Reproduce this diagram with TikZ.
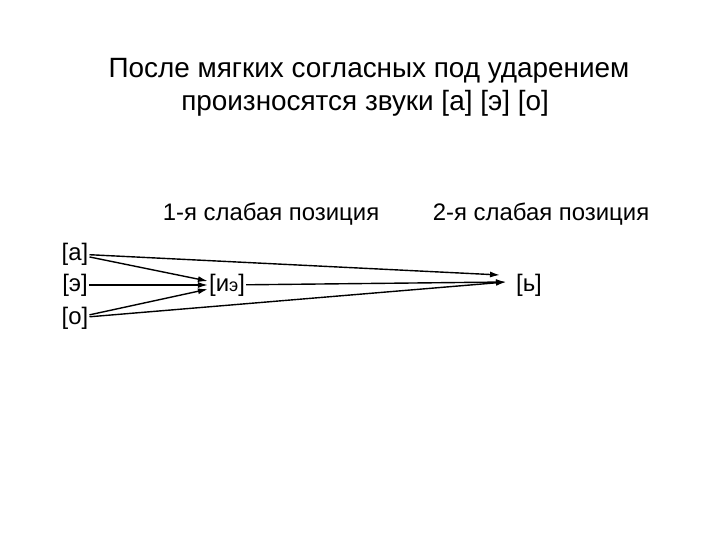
\documentclass[tikz,border=0pt]{standalone}
\usepackage{fontspec}
\setmainfont{Liberation Sans}
\usetikzlibrary{arrows.meta}

\begin{document}
\begin{tikzpicture}[x=1bp,y=-1bp,
  heading/.style={anchor=base,font=\fontsize{28}{32}\selectfont},
  caption/.style={anchor=base,font=\fontsize{24}{28}\selectfont},
  sound/.style={inner sep=1bp,font=\fontsize{24}{28}\selectfont},
  arr/.style={line width=1.4bp,-{Latex[length=10bp,width=6bp]}}]
  \useasboundingbox (0,0) rectangle (720,540);

  % Title
  \node[heading] (title1) at (369,78) {После мягких согласных под ударением};
  \node[heading] (title2) at (365,111) {произносятся звуки [а] [э] [о]};

  % Column headings
  \node[caption] (weak1) at (271,221) {1-я слабая позиция};
  \node[caption] (weak2) at (541,221) {2-я слабая позиция};

  % Sounds
  \node[sound] (a) at (75,254) {[а]};
  \node[sound] (e) at (75,285) {[э]};
  \node[sound] (o) at (75,318) {[о]};
  \node[sound] (ie) at (227,285) {[и{\fontsize{18}{18}\selectfont э}]};
  \node[sound] (soft) at (529,285) {[ь]};

  % Free ends of the long arrows
  \coordinate (tipA) at (500,275);
  \coordinate (tipB) at (506,282);

  % Arrows to the 1st weak position
  \draw[arr] (a) -- (ie);
  \draw[arr] (e) -- (ie);
  \draw[arr] (o) -- (ie);

  % Arrows to the 2nd weak position
  \draw[arr] (a) -- (tipA);
  \draw[arr] (ie) -- (tipB);
  \draw[arr] (o) -- (tipB);
\end{tikzpicture}
\end{document}
